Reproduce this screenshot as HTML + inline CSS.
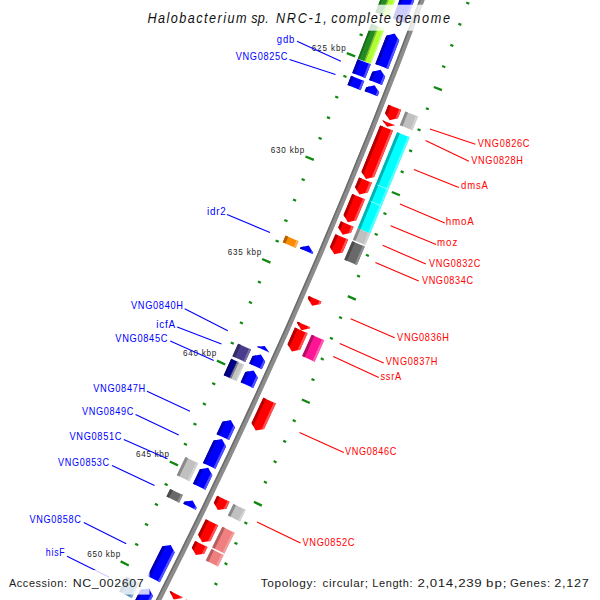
<!DOCTYPE html>
<html><head><meta charset="utf-8"><style>
html,body{margin:0;padding:0;background:#fff;width:600px;height:600px;overflow:hidden}
svg{display:block;font-family:"Liberation Sans",sans-serif}
</style></head><body>
<svg width="600" height="600" viewBox="0 0 600 600">
<rect width="600" height="600" fill="#fff"/>
<path d="M442.00,-54.37 A5902.5,5902.5 0 0 1 135.87,644.40" fill="none" stroke="#8c8c8c" stroke-width="5.2"/>
<path d="M440.31,-54.98 A5900.7,5900.7 0 0 1 134.27,643.58" fill="none" stroke="#6c6c6c" stroke-width="1.5"/>
<line x1="398.58" y1="-70.14" x2="401.68" y2="-69.01" stroke="#118811" stroke-width="2.20"/>
<line x1="481.86" y1="-39.90" x2="484.87" y2="-38.81" stroke="#118811" stroke-width="2.20"/>
<line x1="386.15" y1="-50.97" x2="394.69" y2="-47.83" stroke="#118811" stroke-width="2.30"/>
<line x1="473.82" y1="-18.76" x2="481.98" y2="-15.76" stroke="#118811" stroke-width="2.30"/>
<line x1="383.21" y1="-28.31" x2="386.31" y2="-27.16" stroke="#118811" stroke-width="2.20"/>
<line x1="466.26" y1="2.55" x2="469.26" y2="3.67" stroke="#118811" stroke-width="2.20"/>
<line x1="375.41" y1="-7.45" x2="378.50" y2="-6.28" stroke="#118811" stroke-width="2.20"/>
<line x1="458.34" y1="23.74" x2="461.34" y2="24.86" stroke="#118811" stroke-width="2.20"/>
<line x1="367.53" y1="13.39" x2="370.62" y2="14.57" stroke="#118811" stroke-width="2.20"/>
<line x1="450.34" y1="44.89" x2="453.33" y2="46.03" stroke="#118811" stroke-width="2.20"/>
<line x1="359.57" y1="34.20" x2="362.65" y2="35.38" stroke="#118811" stroke-width="2.20"/>
<line x1="442.26" y1="66.01" x2="445.25" y2="67.16" stroke="#118811" stroke-width="2.20"/>
<line x1="346.78" y1="53.13" x2="355.26" y2="56.43" stroke="#118811" stroke-width="2.30"/>
<line x1="433.82" y1="87.00" x2="441.93" y2="90.15" stroke="#118811" stroke-width="2.30"/>
<line x1="343.41" y1="75.72" x2="346.49" y2="76.93" stroke="#118811" stroke-width="2.20"/>
<line x1="425.86" y1="108.16" x2="428.84" y2="109.34" stroke="#118811" stroke-width="2.20"/>
<line x1="335.22" y1="96.44" x2="338.28" y2="97.66" stroke="#118811" stroke-width="2.20"/>
<line x1="417.54" y1="129.19" x2="420.51" y2="130.38" stroke="#118811" stroke-width="2.20"/>
<line x1="326.94" y1="117.12" x2="330.00" y2="118.35" stroke="#118811" stroke-width="2.20"/>
<line x1="409.14" y1="150.19" x2="412.11" y2="151.38" stroke="#118811" stroke-width="2.20"/>
<line x1="318.59" y1="137.77" x2="321.65" y2="139.02" stroke="#118811" stroke-width="2.20"/>
<line x1="400.66" y1="171.15" x2="403.62" y2="172.36" stroke="#118811" stroke-width="2.20"/>
<line x1="305.44" y1="156.45" x2="313.86" y2="159.92" stroke="#118811" stroke-width="2.30"/>
<line x1="391.82" y1="191.97" x2="399.87" y2="195.28" stroke="#118811" stroke-width="2.30"/>
<line x1="301.65" y1="178.98" x2="304.69" y2="180.25" stroke="#118811" stroke-width="2.20"/>
<line x1="383.46" y1="212.99" x2="386.42" y2="214.21" stroke="#118811" stroke-width="2.20"/>
<line x1="293.06" y1="199.54" x2="296.10" y2="200.82" stroke="#118811" stroke-width="2.20"/>
<line x1="374.74" y1="233.85" x2="377.69" y2="235.09" stroke="#118811" stroke-width="2.20"/>
<line x1="284.39" y1="220.06" x2="287.43" y2="221.35" stroke="#118811" stroke-width="2.20"/>
<line x1="365.94" y1="254.69" x2="368.89" y2="255.94" stroke="#118811" stroke-width="2.20"/>
<line x1="275.64" y1="240.55" x2="278.68" y2="241.85" stroke="#118811" stroke-width="2.20"/>
<line x1="357.07" y1="275.49" x2="360.01" y2="276.75" stroke="#118811" stroke-width="2.20"/>
<line x1="262.14" y1="258.98" x2="270.49" y2="262.60" stroke="#118811" stroke-width="2.30"/>
<line x1="347.83" y1="296.13" x2="355.82" y2="299.59" stroke="#118811" stroke-width="2.30"/>
<line x1="257.92" y1="281.43" x2="260.94" y2="282.75" stroke="#118811" stroke-width="2.20"/>
<line x1="339.07" y1="316.98" x2="342.01" y2="318.27" stroke="#118811" stroke-width="2.20"/>
<line x1="248.94" y1="301.82" x2="251.96" y2="303.15" stroke="#118811" stroke-width="2.20"/>
<line x1="329.96" y1="337.68" x2="332.89" y2="338.97" stroke="#118811" stroke-width="2.20"/>
<line x1="239.89" y1="322.17" x2="242.90" y2="323.52" stroke="#118811" stroke-width="2.20"/>
<line x1="320.77" y1="358.34" x2="323.69" y2="359.65" stroke="#118811" stroke-width="2.20"/>
<line x1="230.75" y1="342.49" x2="233.76" y2="343.85" stroke="#118811" stroke-width="2.20"/>
<line x1="311.50" y1="378.97" x2="314.41" y2="380.29" stroke="#118811" stroke-width="2.20"/>
<line x1="216.90" y1="360.66" x2="225.18" y2="364.44" stroke="#118811" stroke-width="2.30"/>
<line x1="301.87" y1="399.44" x2="309.79" y2="403.05" stroke="#118811" stroke-width="2.30"/>
<line x1="212.25" y1="383.03" x2="215.25" y2="384.41" stroke="#118811" stroke-width="2.20"/>
<line x1="292.72" y1="420.12" x2="295.62" y2="421.46" stroke="#118811" stroke-width="2.20"/>
<line x1="202.89" y1="403.24" x2="205.88" y2="404.63" stroke="#118811" stroke-width="2.20"/>
<line x1="283.21" y1="440.64" x2="286.11" y2="441.99" stroke="#118811" stroke-width="2.20"/>
<line x1="193.45" y1="423.42" x2="196.43" y2="424.82" stroke="#118811" stroke-width="2.20"/>
<line x1="273.63" y1="461.12" x2="276.52" y2="462.48" stroke="#118811" stroke-width="2.20"/>
<line x1="183.93" y1="443.56" x2="186.91" y2="444.98" stroke="#118811" stroke-width="2.20"/>
<line x1="263.96" y1="481.57" x2="266.86" y2="482.94" stroke="#118811" stroke-width="2.20"/>
<line x1="169.74" y1="461.46" x2="177.94" y2="465.39" stroke="#118811" stroke-width="2.30"/>
<line x1="253.95" y1="501.85" x2="261.80" y2="505.61" stroke="#118811" stroke-width="2.30"/>
<line x1="164.66" y1="483.73" x2="167.63" y2="485.17" stroke="#118811" stroke-width="2.20"/>
<line x1="244.41" y1="522.35" x2="247.29" y2="523.74" stroke="#118811" stroke-width="2.20"/>
<line x1="154.92" y1="503.77" x2="157.88" y2="505.22" stroke="#118811" stroke-width="2.20"/>
<line x1="234.51" y1="542.68" x2="237.39" y2="544.09" stroke="#118811" stroke-width="2.20"/>
<line x1="145.09" y1="523.76" x2="148.05" y2="525.22" stroke="#118811" stroke-width="2.20"/>
<line x1="224.54" y1="562.98" x2="227.41" y2="564.40" stroke="#118811" stroke-width="2.20"/>
<line x1="135.19" y1="543.72" x2="138.15" y2="545.19" stroke="#118811" stroke-width="2.20"/>
<line x1="214.49" y1="583.24" x2="217.35" y2="584.67" stroke="#118811" stroke-width="2.20"/>
<line x1="120.66" y1="561.35" x2="128.79" y2="565.44" stroke="#118811" stroke-width="2.30"/>
<line x1="204.10" y1="603.33" x2="211.87" y2="607.24" stroke="#118811" stroke-width="2.30"/>
<line x1="115.17" y1="583.52" x2="118.11" y2="585.02" stroke="#118811" stroke-width="2.20"/>
<line x1="194.16" y1="623.64" x2="197.01" y2="625.09" stroke="#118811" stroke-width="2.20"/>
<line x1="105.04" y1="603.36" x2="107.98" y2="604.87" stroke="#118811" stroke-width="2.20"/>
<line x1="183.88" y1="643.79" x2="186.73" y2="645.25" stroke="#118811" stroke-width="2.20"/>
<line x1="94.84" y1="623.17" x2="97.77" y2="624.69" stroke="#118811" stroke-width="2.20"/>
<line x1="173.53" y1="663.89" x2="176.37" y2="665.36" stroke="#118811" stroke-width="2.20"/>
<polygon points="392.95,18.27 405.86,23.17 463.87,-136.62 458.97,-143.53 450.83,-141.14" fill="#0000ff"/>
<polygon points="392.95,18.27 395.67,19.30 454.25,-142.14 450.83,-141.14" fill="#0000b2"/>
<polygon points="403.80,22.39 405.86,23.17 463.87,-136.62 462.31,-138.82" fill="#5151ff"/>
<polygon points="375.34,64.12 388.20,69.12 399.22,40.56 394.54,33.49 386.34,35.63" fill="#0000ff"/>
<polygon points="375.34,64.12 378.04,65.17 389.79,34.73 386.34,35.63" fill="#0000b2"/>
<polygon points="386.15,68.32 388.20,69.12 399.22,40.56 397.73,38.31" fill="#5151ff"/>
<polygon points="369.11,80.06 381.95,85.10 385.19,76.83 380.56,69.73 372.34,71.81" fill="#0000ff"/>
<polygon points="369.11,80.06 371.81,81.12 375.79,70.94 372.34,71.81" fill="#0000b2"/>
<polygon points="379.91,84.30 381.95,85.10 385.19,76.83 383.72,74.57" fill="#5151ff"/>
<polygon points="364.68,91.30 377.52,96.37 379.15,92.24 374.53,85.13 366.31,87.18" fill="#0000ff"/>
<polygon points="364.68,91.30 367.38,92.37 369.76,86.32 366.31,87.18" fill="#0000b2"/>
<polygon points="375.47,95.56 377.52,96.37 379.15,92.24 377.68,89.97" fill="#5151ff"/>
<polygon points="299.96,248.55 312.64,253.98 313.17,252.75 308.77,245.50 300.49,247.31" fill="#0000ff"/>
<polygon points="299.96,248.55 302.63,249.69 303.97,246.55 300.49,247.31" fill="#0000b2"/>
<polygon points="310.62,253.12 312.64,253.98 313.17,252.75 311.77,250.44" fill="#5151ff"/>
<polygon points="256.75,346.87 269.33,352.54 269.33,352.54 264.74,345.93 256.75,346.87" fill="#0000ff"/>
<polygon points="256.75,346.87 259.40,348.06 260.11,346.47 256.75,346.87" fill="#0000b2"/>
<polygon points="267.33,351.63 269.33,352.54 269.33,352.54 267.87,350.43" fill="#5151ff"/>
<polygon points="249.19,363.59 261.76,369.29 265.18,361.74 260.92,354.40 252.61,356.05" fill="#0000ff"/>
<polygon points="249.19,363.59 251.83,364.79 256.10,355.36 252.61,356.05" fill="#0000b2"/>
<polygon points="259.75,368.38 261.76,369.29 265.18,361.74 263.83,359.40" fill="#5151ff"/>
<polygon points="240.65,382.32 253.19,388.07 257.90,377.77 253.67,370.42 245.34,372.04" fill="#0000ff"/>
<polygon points="240.65,382.32 243.28,383.52 248.84,371.36 245.34,372.04" fill="#0000b2"/>
<polygon points="251.19,387.15 253.19,388.07 257.90,377.77 256.55,375.42" fill="#5151ff"/>
<polygon points="216.57,434.17 229.06,440.04 234.95,427.47 230.79,420.08 222.45,421.63" fill="#0000ff"/>
<polygon points="216.57,434.17 219.20,435.40 225.95,420.98 222.45,421.63" fill="#0000b2"/>
<polygon points="227.07,439.10 229.06,440.04 234.95,427.47 233.63,425.11" fill="#5151ff"/>
<polygon points="202.96,462.92 215.41,468.86 226.05,446.43 221.91,439.03 213.57,440.54" fill="#0000ff"/>
<polygon points="202.96,462.92 205.57,464.17 217.07,439.91 213.57,440.54" fill="#0000b2"/>
<polygon points="213.43,467.92 215.41,468.86 226.05,446.43 224.73,444.07" fill="#5151ff"/>
<polygon points="192.97,483.77 205.40,489.75 212.34,475.30 208.24,467.87 199.89,469.34" fill="#0000ff"/>
<polygon points="192.97,483.77 195.58,485.02 203.40,468.73 199.89,469.34" fill="#0000b2"/>
<polygon points="203.42,488.80 205.40,489.75 212.34,475.30 211.03,472.93" fill="#5151ff"/>
<polygon points="183.32,503.71 195.73,509.74 196.66,507.82 192.60,500.38 184.25,501.79" fill="#0000ff"/>
<polygon points="183.32,503.71 185.93,504.97 187.76,501.20 184.25,501.79" fill="#0000b2"/>
<polygon points="193.75,508.78 195.73,509.74 196.66,507.82 195.37,505.45" fill="#5151ff"/>
<polygon points="147.49,576.10 159.82,582.30 174.72,552.49 170.73,545.01 162.36,546.36" fill="#0000ff"/>
<polygon points="147.49,576.10 150.09,577.40 165.88,545.79 162.36,546.36" fill="#0000b2"/>
<polygon points="157.86,581.32 159.82,582.30 174.72,552.49 173.45,550.11" fill="#5151ff"/>
<polygon points="96.77,674.55 108.97,680.99 152.95,595.92 149.02,588.40 140.64,589.68" fill="#0000ff"/>
<polygon points="96.77,674.55 99.33,675.91 144.16,589.15 140.64,589.68" fill="#0000b2"/>
<polygon points="107.03,679.96 108.97,680.99 152.95,595.92 151.69,593.52" fill="#5151ff"/>
<polygon points="435.15,-151.77 441.81,-149.47 382.12,15.12 375.53,12.62" fill="#228b22"/>
<polygon points="435.15,-151.77 436.85,-151.18 377.21,13.25 375.53,12.62" fill="#1a6a1a"/>
<polygon points="441.06,-149.73 441.81,-149.47 382.12,15.12 381.37,14.83" fill="#3a9a3a"/>
<polygon points="441.81,-149.47 448.48,-147.16 388.71,17.62 382.12,15.12" fill="#adff2f"/>
<polygon points="441.81,-149.47 442.76,-149.14 383.05,15.47 382.12,15.12" fill="#7fa830"/>
<polygon points="447.15,-147.62 448.48,-147.16 388.71,17.62 387.40,17.12" fill="#c8ff70"/>
<polygon points="371.32,23.66 377.91,26.18 364.41,61.18 357.84,58.63" fill="#228b22"/>
<polygon points="371.32,23.66 373.00,24.31 359.52,59.28 357.84,58.63" fill="#1a6a1a"/>
<polygon points="377.16,25.89 377.91,26.18 364.41,61.18 363.66,60.89" fill="#3a9a3a"/>
<polygon points="377.91,26.18 384.49,28.69 370.98,63.74 364.41,61.18" fill="#adff2f"/>
<polygon points="377.91,26.18 378.84,26.54 365.34,61.55 364.41,61.18" fill="#7fa830"/>
<polygon points="383.19,28.20 384.49,28.69 370.98,63.74 369.67,63.23" fill="#c8ff70"/>
<polygon points="357.60,59.25 370.73,64.37 365.36,78.11 352.24,72.96" fill="#0000ff"/>
<polygon points="357.60,59.25 360.30,60.30 354.94,74.02 352.24,72.96" fill="#0000b2"/>
<polygon points="368.68,63.57 370.73,64.37 365.36,78.11 363.31,77.31" fill="#5151ff"/>
<polygon points="351.09,75.87 364.22,81.02 360.61,90.18 347.50,85.00" fill="#0000ff"/>
<polygon points="351.09,75.87 353.79,76.93 350.19,86.06 347.50,85.00" fill="#0000b2"/>
<polygon points="362.17,80.22 364.22,81.02 360.61,90.18 358.57,89.37" fill="#5151ff"/>
<polygon points="285.60,235.60 298.56,241.14 295.66,247.92 282.70,242.36" fill="#ff8c00"/>
<polygon points="285.60,235.60 288.26,236.74 285.37,243.51 282.70,242.36" fill="#b26200"/>
<polygon points="296.54,240.27 298.56,241.14 295.66,247.92 293.64,247.05" fill="#ffb051"/>
<polygon points="238.14,343.63 250.99,349.43 245.27,362.05 232.44,356.22" fill="#483d8b"/>
<polygon points="238.14,343.63 240.78,344.82 235.08,357.42 232.44,356.22" fill="#332b64"/>
<polygon points="248.99,348.52 250.99,349.43 245.27,362.05 243.27,361.14" fill="#756da8"/>
<polygon points="231.24,358.86 237.65,361.78 230.14,378.24 223.73,375.30" fill="#000088"/>
<polygon points="231.24,358.86 232.69,359.53 225.19,375.97 223.73,375.30" fill="#000066"/>
<polygon points="236.74,361.37 237.65,361.78 230.14,378.24 229.23,377.82" fill="#3a3aa0"/>
<polygon points="237.65,361.78 244.07,364.70 236.55,381.17 230.14,378.24" fill="#c4c4c4"/>
<polygon points="237.65,361.78 238.84,362.32 231.32,378.78 230.14,378.24" fill="#7a7a7a"/>
<polygon points="242.80,364.12 244.07,364.70 236.55,381.17 235.28,380.59" fill="#d4d4d4"/>
<polygon points="185.45,457.12 198.17,463.19 189.47,481.34 176.77,475.22" fill="#c0c0c0"/>
<polygon points="185.45,457.12 188.07,458.37 179.38,476.48 176.77,475.22" fill="#8a8a8a"/>
<polygon points="196.19,462.25 198.17,463.19 189.47,481.34 187.49,480.39" fill="#d2d2d2"/>
<polygon points="170.17,488.88 182.86,495.03 179.15,502.67 166.47,496.50" fill="#696969"/>
<polygon points="170.17,488.88 172.78,490.14 169.08,497.77 166.47,496.50" fill="#4b4b4b"/>
<polygon points="180.88,494.07 182.86,495.03 179.15,502.67 177.17,501.71" fill="#8e8e8e"/>
<polygon points="126.73,576.63 139.31,582.99 131.73,597.95 119.16,591.55" fill="#4682b4"/>
<polygon points="126.73,576.63 129.32,577.94 121.74,592.87 119.16,591.55" fill="#315b7d"/>
<polygon points="137.35,582.00 139.31,582.99 131.73,597.95 129.77,596.95" fill="#81aacc"/>
<polygon points="388.39,104.77 401.22,109.85 397.90,118.23 389.66,120.28 385.08,113.13" fill="#ff0000"/>
<polygon points="388.39,104.77 391.09,105.84 387.01,116.13 385.08,113.13" fill="#b20000"/>
<polygon points="399.18,109.04 401.22,109.85 397.90,118.23 395.28,118.88" fill="#ff5151"/>
<polygon points="382.29,120.13 395.11,125.24 395.11,125.24 387.08,126.76 382.29,120.13" fill="#ff0000"/>
<polygon points="382.29,120.13 384.99,121.20 384.30,122.91 382.29,120.13" fill="#b20000"/>
<polygon points="393.07,124.42 395.11,125.24 395.11,125.24 392.55,125.72" fill="#ff5151"/>
<polygon points="380.17,125.45 392.98,130.57 374.21,176.94 365.95,178.90 361.44,171.70" fill="#ff0000"/>
<polygon points="380.17,125.45 382.86,126.53 363.34,174.73 361.44,171.70" fill="#b20000"/>
<polygon points="390.94,129.76 392.98,130.57 374.21,176.94 371.58,177.56" fill="#ff5151"/>
<polygon points="359.11,177.38 371.88,182.63 367.77,192.60 359.50,194.55 355.01,187.34" fill="#ff0000"/>
<polygon points="359.11,177.38 361.80,178.48 356.90,190.37 355.01,187.34" fill="#b20000"/>
<polygon points="369.84,181.79 371.88,182.63 367.77,192.60 365.13,193.22" fill="#ff5151"/>
<polygon points="352.25,194.00 365.00,199.29 356.27,220.25 347.99,222.15 343.54,214.92" fill="#ff0000"/>
<polygon points="352.25,194.00 354.93,195.11 345.41,217.96 343.54,214.92" fill="#b20000"/>
<polygon points="362.97,198.45 365.00,199.29 356.27,220.25 353.63,220.86" fill="#ff5151"/>
<polygon points="340.85,221.32 353.57,226.67 350.97,232.86 342.68,234.74 338.25,227.49" fill="#ff0000"/>
<polygon points="340.85,221.32 343.52,222.45 340.11,230.54 338.25,227.49" fill="#b20000"/>
<polygon points="351.54,225.82 353.57,226.67 350.97,232.86 348.32,233.46" fill="#ff5151"/>
<polygon points="335.43,234.16 348.14,239.54 342.63,252.52 334.34,254.37 329.93,247.11" fill="#ff0000"/>
<polygon points="335.43,234.16 338.10,235.29 331.79,250.16 329.93,247.11" fill="#b20000"/>
<polygon points="346.12,238.68 348.14,239.54 342.63,252.52 339.99,253.11" fill="#ff5151"/>
<polygon points="308.83,296.05 321.47,301.57 320.46,303.88 312.16,305.66 307.82,298.36" fill="#ff0000"/>
<polygon points="308.83,296.05 311.49,297.21 309.64,301.42 307.82,298.36" fill="#b20000"/>
<polygon points="319.46,300.69 321.47,301.57 320.46,303.88 317.82,304.45" fill="#ff5151"/>
<polygon points="297.59,321.63 310.21,327.21 309.66,328.45 301.34,330.18 297.04,322.86" fill="#ff0000"/>
<polygon points="297.59,321.63 300.24,322.80 298.85,325.94 297.04,322.86" fill="#b20000"/>
<polygon points="308.19,326.32 310.21,327.21 309.66,328.45 307.01,329.00" fill="#ff5151"/>
<polygon points="294.95,327.59 307.56,333.18 300.15,349.81 291.83,351.51 287.55,344.18" fill="#ff0000"/>
<polygon points="294.95,327.59 297.60,328.76 289.35,347.26 287.55,344.18" fill="#b20000"/>
<polygon points="305.55,332.29 307.56,333.18 300.15,349.81 297.50,350.36" fill="#ff5151"/>
<polygon points="263.32,397.65 275.86,403.41 264.07,428.91 255.72,430.49 251.56,423.10" fill="#ff0000"/>
<polygon points="263.32,397.65 265.95,398.86 253.31,426.20 251.56,423.10" fill="#b20000"/>
<polygon points="273.86,402.49 275.86,403.41 264.07,428.91 261.41,429.42" fill="#ff5151"/>
<polygon points="217.13,495.83 229.56,501.82 226.27,508.63 217.90,510.09 213.84,502.63" fill="#ff0000"/>
<polygon points="217.13,495.83 219.74,497.09 215.55,505.76 213.84,502.63" fill="#b20000"/>
<polygon points="227.58,500.86 229.56,501.82 226.27,508.63 223.60,509.10" fill="#ff5151"/>
<polygon points="205.80,519.21 218.20,525.26 210.55,540.90 202.18,542.30 198.17,534.82" fill="#ff0000"/>
<polygon points="205.80,519.21 208.41,520.48 199.85,537.96 198.17,534.82" fill="#b20000"/>
<polygon points="216.23,524.29 218.20,525.26 210.55,540.90 207.88,541.35" fill="#ff5151"/>
<polygon points="195.15,540.95 207.53,547.05 204.23,553.74 195.85,555.12 191.86,547.63" fill="#ff0000"/>
<polygon points="195.15,540.95 197.75,542.23 193.54,550.77 191.86,547.63" fill="#b20000"/>
<polygon points="205.56,546.08 207.53,547.05 204.23,553.74 201.56,554.18" fill="#ff5151"/>
<polygon points="170.20,591.05 182.52,597.26 182.11,598.07 173.72,599.38 169.79,591.85" fill="#ff0000"/>
<polygon points="170.20,591.05 172.79,592.36 171.44,595.02 169.79,591.85" fill="#b20000"/>
<polygon points="180.55,596.27 182.52,597.26 182.11,598.07 179.44,598.49" fill="#ff5151"/>
<polygon points="405.33,111.43 417.98,116.43 412.50,130.23 399.87,125.19" fill="#c0c0c0"/>
<polygon points="405.33,111.43 408.03,112.49 402.56,126.27 399.87,125.19" fill="#8a8a8a"/>
<polygon points="415.93,115.62 417.98,116.43 412.50,130.23 410.46,129.41" fill="#d2d2d2"/>
<polygon points="397.09,132.15 409.72,137.20 370.25,233.44 357.71,228.17" fill="#00ffff"/>
<polygon points="397.09,132.15 399.78,133.22 360.39,229.29 357.71,228.17" fill="#00b2b2"/>
<polygon points="407.68,136.38 409.72,137.20 370.25,233.44 368.22,232.58" fill="#51ffff"/>
<polygon points="357.71,228.17 370.25,233.44 365.34,245.10 352.81,239.80" fill="#c0c0c0"/>
<polygon points="357.71,228.17 360.39,229.29 355.48,240.93 352.81,239.80" fill="#8a8a8a"/>
<polygon points="368.22,232.58 370.25,233.44 365.34,245.10 363.31,244.24" fill="#d2d2d2"/>
<polygon points="352.24,241.15 364.76,246.45 356.85,265.06 344.34,259.72" fill="#696969"/>
<polygon points="352.24,241.15 354.91,242.28 347.01,260.86 344.34,259.72" fill="#4b4b4b"/>
<polygon points="362.74,245.59 364.76,246.45 356.85,265.06 354.83,264.20" fill="#8e8e8e"/>
<polygon points="311.73,334.64 324.16,340.15 314.58,361.64 302.17,356.08" fill="#ff1493"/>
<polygon points="311.73,334.64 314.38,335.81 304.82,357.26 302.17,356.08" fill="#b20e66"/>
<polygon points="322.15,339.26 324.16,340.15 314.58,361.64 312.57,360.74" fill="#ff5fb5"/>
<polygon points="233.42,503.95 245.67,509.85 240.02,521.53 227.79,515.60" fill="#c0c0c0"/>
<polygon points="233.42,503.95 236.03,505.21 230.40,516.87 227.79,515.60" fill="#8a8a8a"/>
<polygon points="243.69,508.90 245.67,509.85 240.02,521.53 238.04,520.57" fill="#d2d2d2"/>
<polygon points="222.39,526.72 234.61,532.67 224.38,553.58 212.18,547.57" fill="#f08080"/>
<polygon points="222.39,526.72 224.99,527.99 214.78,548.85 212.18,547.57" fill="#b46060"/>
<polygon points="232.64,531.71 234.61,532.67 224.38,553.58 222.41,552.61" fill="#f39f9f"/>
<polygon points="211.48,548.99 223.68,555.00 218.02,566.47 205.83,560.43" fill="#f08080"/>
<polygon points="211.48,548.99 214.08,550.27 208.43,561.72 205.83,560.43" fill="#b46060"/>
<polygon points="221.71,554.03 223.68,555.00 218.02,566.47 216.05,565.49" fill="#f39f9f"/>
<polygon points="186.35,599.44 198.49,605.57 148.78,701.98 136.75,695.63" fill="#ff8c00"/>
<polygon points="186.35,599.44 188.94,600.75 139.31,696.99 136.75,695.63" fill="#b26200"/>
<polygon points="196.53,604.58 198.49,605.57 148.78,701.98 146.83,700.95" fill="#ffb051"/>
<line x1="377.29" y1="184.97" x2="387.74" y2="189.27" stroke="#b8ffff" stroke-width="0.8"/>
<line x1="370.52" y1="201.38" x2="380.96" y2="205.71" stroke="#b8ffff" stroke-width="0.8"/>
<text transform="translate(311.70,50.80) scale(0.880,1)" font-size="9.20" fill="#222222" textLength="38.75" lengthAdjust="spacing">625 kbp</text>
<text transform="translate(270.70,153.30) scale(0.880,1)" font-size="9.20" fill="#222222" textLength="38.18" lengthAdjust="spacing">630 kbp</text>
<text transform="translate(227.70,255.30) scale(0.880,1)" font-size="9.20" fill="#222222" textLength="38.18" lengthAdjust="spacing">635 kbp</text>
<text transform="translate(183.00,356.00) scale(0.880,1)" font-size="9.20" fill="#222222" textLength="37.95" lengthAdjust="spacing">640 kbp</text>
<text transform="translate(136.00,457.30) scale(0.880,1)" font-size="9.20" fill="#222222" textLength="37.61" lengthAdjust="spacing">645 kbp</text>
<text transform="translate(87.20,556.80) scale(0.880,1)" font-size="9.20" fill="#222222" textLength="37.61" lengthAdjust="spacing">650 kbp</text>
<line x1="297.00" y1="41.30" x2="340.90" y2="61.20" stroke="#0000ff" stroke-width="1.1"/>
<line x1="289.50" y1="59.50" x2="335.50" y2="74.50" stroke="#0000ff" stroke-width="1.1"/>
<line x1="227.00" y1="214.40" x2="270.00" y2="232.60" stroke="#0000ff" stroke-width="1.1"/>
<line x1="184.70" y1="308.70" x2="227.80" y2="330.80" stroke="#0000ff" stroke-width="1.1"/>
<line x1="177.20" y1="326.90" x2="221.50" y2="344.10" stroke="#0000ff" stroke-width="1.1"/>
<line x1="170.20" y1="340.90" x2="213.80" y2="360.50" stroke="#0000ff" stroke-width="1.1"/>
<line x1="147.00" y1="391.25" x2="190.00" y2="411.25" stroke="#0000ff" stroke-width="1.1"/>
<line x1="135.50" y1="414.50" x2="178.75" y2="435.00" stroke="#0000ff" stroke-width="1.1"/>
<line x1="123.75" y1="439.50" x2="167.50" y2="458.75" stroke="#0000ff" stroke-width="1.1"/>
<line x1="112.00" y1="465.50" x2="154.50" y2="485.50" stroke="#0000ff" stroke-width="1.1"/>
<line x1="83.75" y1="522.50" x2="126.25" y2="543.75" stroke="#0000ff" stroke-width="1.1"/>
<line x1="67.00" y1="556.25" x2="109.30" y2="577.30" stroke="#0000ff" stroke-width="1.1"/>
<line x1="475.40" y1="144.30" x2="429.90" y2="129.10" stroke="#ff0000" stroke-width="1.1"/>
<line x1="468.90" y1="161.20" x2="425.60" y2="140.60" stroke="#ff0000" stroke-width="1.1"/>
<line x1="458.80" y1="187.60" x2="413.90" y2="169.40" stroke="#ff0000" stroke-width="1.1"/>
<line x1="444.80" y1="222.90" x2="399.90" y2="204.10" stroke="#ff0000" stroke-width="1.1"/>
<line x1="436.10" y1="244.60" x2="390.60" y2="225.80" stroke="#ff0000" stroke-width="1.1"/>
<line x1="425.90" y1="264.10" x2="382.60" y2="245.30" stroke="#ff0000" stroke-width="1.1"/>
<line x1="418.75" y1="281.00" x2="375.40" y2="262.60" stroke="#ff0000" stroke-width="1.1"/>
<line x1="394.60" y1="337.70" x2="350.60" y2="318.70" stroke="#ff0000" stroke-width="1.1"/>
<line x1="383.70" y1="363.10" x2="339.75" y2="343.60" stroke="#ff0000" stroke-width="1.1"/>
<line x1="378.75" y1="377.60" x2="333.25" y2="356.60" stroke="#ff0000" stroke-width="1.1"/>
<line x1="343.75" y1="452.50" x2="299.50" y2="432.50" stroke="#ff0000" stroke-width="1.1"/>
<line x1="300.50" y1="543.00" x2="257.00" y2="522.00" stroke="#ff0000" stroke-width="1.1"/>
<text transform="translate(276.70,43.20) scale(0.908,1)" font-size="10.50" fill="#0000ff" textLength="19.50" lengthAdjust="spacing">gdb</text>
<text transform="translate(235.80,60.00) scale(0.876,1)" font-size="10.50" fill="#0000ff" textLength="58.89" lengthAdjust="spacing">VNG0825C</text>
<text transform="translate(207.10,215.00) scale(0.934,1)" font-size="10.50" fill="#0000ff" textLength="20.03" lengthAdjust="spacing">idr2</text>
<text transform="translate(131.00,308.70) scale(0.884,1)" font-size="10.50" fill="#0000ff" textLength="58.84" lengthAdjust="spacing">VNG0840H</text>
<text transform="translate(156.20,327.80) scale(0.946,1)" font-size="10.50" fill="#0000ff" textLength="19.99" lengthAdjust="spacing">icfA</text>
<text transform="translate(115.30,341.80) scale(0.886,1)" font-size="10.50" fill="#0000ff" textLength="58.83" lengthAdjust="spacing">VNG0845C</text>
<text transform="translate(93.25,392.00) scale(0.883,1)" font-size="10.50" fill="#0000ff" textLength="58.85" lengthAdjust="spacing">VNG0847H</text>
<text transform="translate(82.00,415.00) scale(0.873,1)" font-size="10.50" fill="#0000ff" textLength="58.91" lengthAdjust="spacing">VNG0849C</text>
<text transform="translate(69.50,440.00) scale(0.883,1)" font-size="10.50" fill="#0000ff" textLength="58.85" lengthAdjust="spacing">VNG0851C</text>
<text transform="translate(58.10,465.60) scale(0.865,1)" font-size="10.50" fill="#0000ff" textLength="58.96" lengthAdjust="spacing">VNG0853C</text>
<text transform="translate(29.50,522.50) scale(0.873,1)" font-size="10.50" fill="#0000ff" textLength="58.91" lengthAdjust="spacing">VNG0858C</text>
<text transform="translate(45.75,556.30) scale(0.837,1)" font-size="10.50" fill="#0000ff" textLength="22.65" lengthAdjust="spacing">hisF</text>
<text transform="translate(477.80,147.10) scale(0.876,1)" font-size="10.50" fill="#ff0000" textLength="58.89" lengthAdjust="spacing">VNG0826C</text>
<text transform="translate(471.30,163.80) scale(0.876,1)" font-size="10.50" fill="#ff0000" textLength="58.89" lengthAdjust="spacing">VNG0828H</text>
<text transform="translate(461.10,189.30) scale(0.907,1)" font-size="10.50" fill="#ff0000" textLength="29.43" lengthAdjust="spacing">dmsA</text>
<text transform="translate(445.80,224.70) scale(0.935,1)" font-size="10.50" fill="#ff0000" textLength="29.94" lengthAdjust="spacing">hmoA</text>
<text transform="translate(437.10,245.90) scale(0.928,1)" font-size="10.50" fill="#ff0000" textLength="21.78" lengthAdjust="spacing">moz</text>
<text transform="translate(429.10,266.90) scale(0.869,1)" font-size="10.50" fill="#ff0000" textLength="58.93" lengthAdjust="spacing">VNG0832C</text>
<text transform="translate(421.90,283.60) scale(0.869,1)" font-size="10.50" fill="#ff0000" textLength="58.93" lengthAdjust="spacing">VNG0834C</text>
<text transform="translate(397.10,340.80) scale(0.880,1)" font-size="10.50" fill="#ff0000" textLength="58.87" lengthAdjust="spacing">VNG0836H</text>
<text transform="translate(385.80,365.25) scale(0.878,1)" font-size="10.50" fill="#ff0000" textLength="58.88" lengthAdjust="spacing">VNG0837H</text>
<text transform="translate(380.40,379.80) scale(0.883,1)" font-size="10.50" fill="#ff0000" textLength="23.66" lengthAdjust="spacing">ssrA</text>
<text transform="translate(345.00,454.50) scale(0.873,1)" font-size="10.50" fill="#ff0000" textLength="58.91" lengthAdjust="spacing">VNG0846C</text>
<text transform="translate(302.50,545.50) scale(0.883,1)" font-size="10.50" fill="#ff0000" textLength="58.85" lengthAdjust="spacing">VNG0852C</text>
<rect x="144" y="4.7" width="311" height="26" fill="#ffffff" fill-opacity="0.8"/>
<text transform="translate(147.40,22.70) scale(0.920,1)" font-size="13.80" fill="#111111" textLength="107.83" lengthAdjust="spacing" font-style="italic">Halobacterium</text>
<text transform="translate(251.20,22.70) scale(0.920,1)" font-size="13.80" fill="#111111" textLength="19.13" lengthAdjust="spacing" font-style="italic">sp.</text>
<text transform="translate(275.90,22.70) scale(0.920,1)" font-size="13.80" fill="#111111" textLength="55.33" lengthAdjust="spacing" font-style="italic">NRC-1,</text>
<text transform="translate(331.20,22.70) scale(0.920,1)" font-size="13.80" fill="#111111" textLength="64.78" lengthAdjust="spacing" font-style="italic">complete</text>
<text transform="translate(395.80,22.70) scale(0.920,1)" font-size="13.80" fill="#111111" textLength="58.91" lengthAdjust="spacing" font-style="italic">genome</text>
<rect x="5" y="570" width="144.5" height="24.6" fill="#ffffff" fill-opacity="0.8"/>
<text transform="translate(8.95,586.70) scale(0.924,1)" font-size="11.80" fill="#1a1a1a" textLength="62.79" lengthAdjust="spacing">Accession:</text>
<text transform="translate(72.70,586.70) scale(1.049,1)" font-size="11.80" fill="#1a1a1a" textLength="67.56" lengthAdjust="spacing">NC_002607</text>
<rect x="257" y="570" width="338" height="24.6" fill="#ffffff" fill-opacity="0.8"/>
<text transform="translate(260.80,586.50) scale(1.004,1)" font-size="11.80" fill="#1a1a1a" textLength="55.30" lengthAdjust="spacing">Topology:</text>
<text transform="translate(322.60,586.50) scale(0.985,1)" font-size="11.80" fill="#1a1a1a" textLength="46.18" lengthAdjust="spacing">circular;</text>
<text transform="translate(372.20,586.50) scale(0.930,1)" font-size="11.80" fill="#1a1a1a" textLength="43.46" lengthAdjust="spacing">Length:</text>
<text transform="translate(417.50,586.50) scale(1.130,1)" font-size="11.80" fill="#1a1a1a" textLength="56.74" lengthAdjust="spacing">2,014,239</text>
<text transform="translate(486.10,586.50) scale(1.128,1)" font-size="11.80" fill="#1a1a1a" textLength="18.00" lengthAdjust="spacing">bp;</text>
<text transform="translate(510.00,586.50) scale(0.967,1)" font-size="11.80" fill="#1a1a1a" textLength="41.46" lengthAdjust="spacing">Genes:</text>
<text transform="translate(554.30,586.50) scale(1.077,1)" font-size="11.80" fill="#1a1a1a" textLength="32.13" lengthAdjust="spacing">2,127</text>
</svg>
</body></html>
